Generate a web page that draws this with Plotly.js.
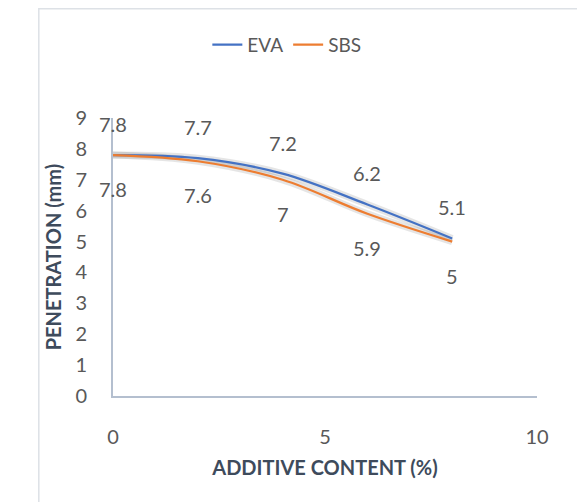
<!DOCTYPE html>
<html><head><meta charset="utf-8">
<script src="https://cdn.plot.ly/plotly-3.0.1.min.js"></script>
<style>html,body{margin:0;padding:0;background:#fff;}#chart{width:577px;height:502px;}</style>
</head><body><div id="chart"></div>
<script>
const additive = [0, 2, 4, 6, 8];
const eva = [7.8, 7.7, 7.2, 6.2, 5.1];
const sbs = [7.8, 7.6, 7, 5.9, 5];

const FONT = 'Lato, "Open Sans", sans-serif';
const labelColor = '#595959';

const shadow = (y) => ({
  x: additive, y: y, mode: 'lines', showlegend: false, hoverinfo: 'skip',
  line: {shape: 'spline', smoothing: 1, color: 'rgba(0,0,0,0.10)', width: 7}
});

const traces = [
  shadow(eva), shadow(sbs),
  {x: additive, y: eva, name: 'EVA', mode: 'lines',
   line: {shape: 'spline', smoothing: 1, color: '#4472c4', width: 2.25}},
  {x: additive, y: sbs, name: 'SBS', mode: 'lines',
   line: {shape: 'spline', smoothing: 1, color: '#ed7d31', width: 2.25}}
];

const annotations = [];
additive.forEach((x, i) => {
  annotations.push({x: x, y: eva[i], text: String(eva[i]), showarrow: false,
    yshift: 31, font: {family: FONT, size: 20, color: labelColor}});
  annotations.push({x: x, y: sbs[i], text: String(sbs[i]), showarrow: false,
    yshift: -34, font: {family: FONT, size: 20, color: labelColor}});
});

const layout = {
  width: 577, height: 502,
  margin: {l: 113, r: 40, t: 118, b: 106},
  paper_bgcolor: '#fff', plot_bgcolor: '#fff',
  font: {family: FONT, color: labelColor},
  showlegend: true,
  legend: {orientation: 'h', x: 0.41, xanchor: 'center', y: 1.263, yanchor: 'middle',
    xref: 'paper', yref: 'paper', itemwidth: 30, tracegroupgap: 0,
    font: {family: FONT, size: 19, color: labelColor}},
  xaxis: {range: [0, 10], tickvals: [0, 5, 10], showgrid: false, zeroline: false,
    showline: true, linecolor: '#b4bfcf', linewidth: 2,
    ticks: '', ticklabelstandoff: 22,
    tickfont: {family: FONT, size: 20, color: labelColor},
    title: {text: 'ADDITIVE CONTENT (%)', standoff: 14,
      font: {family: FONT, size: 20, color: '#3e4b5c', weight: 'bold'}}},
  yaxis: {range: [0, 9], dtick: 1, showgrid: false, zeroline: false,
    showline: true, linecolor: '#b4bfcf', linewidth: 2,
    ticks: '', ticklabelstandoff: 20,
    tickfont: {family: FONT, size: 20, color: labelColor},
    title: {text: 'PENETRATION (mm)', standoff: 8,
      font: {family: FONT, size: 20, color: '#3e4b5c', weight: 'bold'}}},
  annotations: annotations,
  shapes: [{type: 'rect', xref: 'paper', yref: 'paper', layer: 'below',
    x0: -0.175, x1: 1.2, y0: -0.5, y1: 1.393,
    line: {color: '#dde1e6', width: 1.5}}]
};

Plotly.newPlot('chart', traces, layout, {displayModeBar: false, staticPlot: true});
</script></body></html>
